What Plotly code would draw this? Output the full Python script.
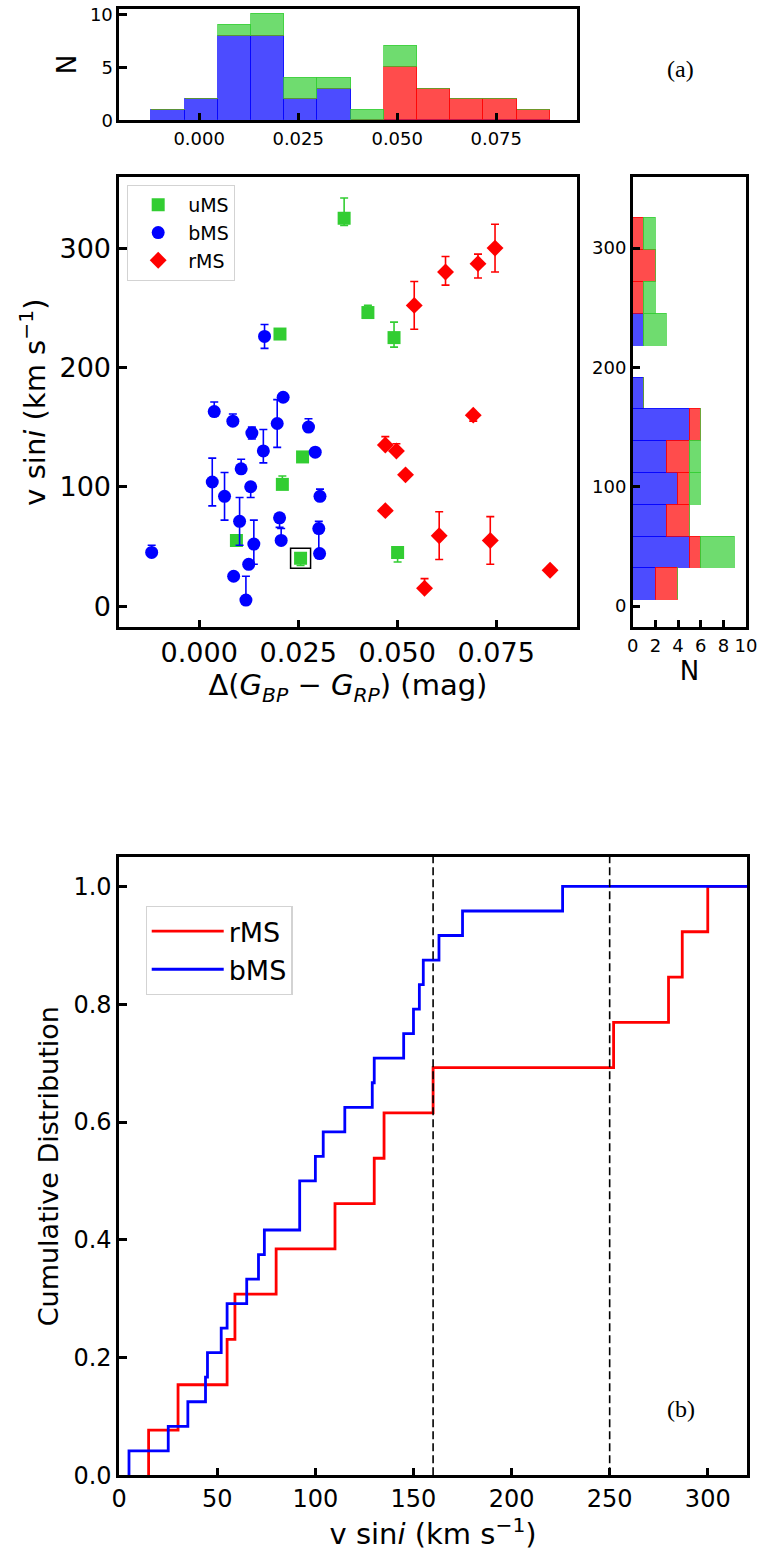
import numpy as np
import plotly.graph_objects as go

# ---------------- data ----------------
# uMS (green squares)
ums_x = [0.0366, 0.0204, 0.0426, 0.0492, 0.0261, 0.0210, 0.0094, 0.0256, 0.0501]
ums_v = [325, 228, 246, 225, 125, 102, 55, 40, 45]
ums_ep = [17, 3, 6, 13, 2, 7, 2, 3, 3]
ums_em = [6, 3, 3, 8, 2, 3, 2, 6, 8]

# bMS (blue circles)
bms_x = [-0.0120, 0.0038, 0.0085, 0.0133, 0.0197, 0.0276, 0.0162, 0.0293,
         0.0106, 0.0033, 0.0130, 0.0064, 0.0305, 0.0102, 0.0203, 0.0302,
         0.0138, 0.0207, 0.0304, 0.0125, 0.0087, 0.0118, 0.0165, 0.0212]
bms_v = [45, 163, 155, 145, 153, 150, 130, 129,
         115, 104, 100, 92, 92, 71, 74, 65,
         52, 55, 44, 35, 25, 5, 226, 175]
bms_ep = [6, 8, 6, 5, 20, 7, 18, 2,
          8, 20, 3, 20, 6, 20, 3, 6,
          20, 10, 3, 3, 2, 20, 10, 3]
bms_em = [3, 3, 3, 5, 20, 3, 10, 2,
          3, 20, 9, 20, 3, 20, 8, 20,
          17, 3, 3, 3, 2, 3, 10, 3]

# rMS (red diamonds)
rms_x = [0.0543, 0.0622, 0.0704, 0.0747, 0.0692, 0.0470, 0.0498, 0.0521,
         0.0470, 0.0606, 0.0735, 0.0886, 0.0569]
rms_v = [252, 280, 287, 300, 160, 135, 130, 110, 80, 59, 55, 30, 15]
rms_ep = [20, 13, 8, 20, 2, 7, 6, 2, 2, 20, 20, 2, 8]
rms_em = [20, 11, 12, 20, 5, 2, 2, 2, 2, 20, 20, 2, 2]

highlight_index = 7          # boxed uMS star
n_bins = 12
vlines = [160, 250]          # dashed reference velocities
cdf_xmax = 320

# ---------------- style ----------------
GREEN, BLUE, RED = "rgb(50,205,50)", "rgb(0,0,255)", "rgb(255,0,0)"
GREEN_A, BLUE_A, RED_A = "rgba(50,205,50,0.7)", "rgba(0,0,255,0.7)", "rgba(255,0,0,0.7)"
FONT = "DejaVu Sans"
W, H = 770, 1560


def px_x(p):
    return p / W


def px_y(p):
    return 1 - p / H


fig = go.Figure()

# ---------------- top histogram (x-distribution) ----------------
all_x = np.array(ums_x + bms_x + rms_x)
edges_x = np.histogram_bin_edges(all_x, bins=n_bins)
cx = 0.5 * (edges_x[:-1] + edges_x[1:])
wx = edges_x[1] - edges_x[0]
for vals, col in [(bms_x, BLUE_A), (rms_x, RED_A), (ums_x, GREEN_A)]:
    cnt, _ = np.histogram(vals, bins=edges_x)
    fig.add_trace(go.Bar(x=cx, y=cnt, width=wx, marker=dict(color=col, line=dict(color=col, width=1)),
                         xaxis="x", yaxis="y", showlegend=False, hoverinfo="skip"))

# ---------------- right histogram (vsini distribution) ----------------
all_v = np.array(ums_v + bms_v + rms_v)
edges_v = np.histogram_bin_edges(all_v, bins=n_bins)
cv = 0.5 * (edges_v[:-1] + edges_v[1:])
wv = edges_v[1] - edges_v[0]
for vals, col in [(bms_v, BLUE_A), (rms_v, RED_A), (ums_v, GREEN_A)]:
    cnt, _ = np.histogram(vals, bins=edges_v)
    fig.add_trace(go.Bar(y=cv, x=cnt, width=wv, orientation="h",
                         marker=dict(color=col, line=dict(color=col, width=1)),
                         xaxis="x3", yaxis="y3", showlegend=False, hoverinfo="skip"))

# ---------------- scatter ----------------
def err(ep, em, col):
    return dict(type="data", symmetric=False, array=ep, arrayminus=em,
                color=col, thickness=1.6, width=4)


fig.add_trace(go.Scatter(x=ums_x, y=ums_v, mode="markers", name="uMS",
                         marker=dict(symbol="square", size=13, color=GREEN),
                         error_y=err(ums_ep, ums_em, GREEN), xaxis="x2", yaxis="y2", legend="legend"))
fig.add_trace(go.Scatter(x=bms_x, y=bms_v, mode="markers", name="bMS",
                         marker=dict(symbol="circle", size=13, color=BLUE),
                         error_y=err(bms_ep, bms_em, BLUE), xaxis="x2", yaxis="y2", legend="legend"))
fig.add_trace(go.Scatter(x=rms_x, y=rms_v, mode="markers", name="rMS",
                         marker=dict(symbol="diamond", size=13, color=RED),
                         error_y=err(rms_ep, rms_em, RED), xaxis="x2", yaxis="y2", legend="legend"))
fig.add_trace(go.Scatter(x=[ums_x[highlight_index]], y=[ums_v[highlight_index]], mode="markers",
                         marker=dict(symbol="square-open", size=20, color="black", line=dict(width=1.5)),
                         xaxis="x2", yaxis="y2", showlegend=False, hoverinfo="skip"))

# ---------------- cumulative distributions ----------------
def cdf(vals, xmax):
    s = sorted(vals)
    n = len(s)
    xs = [s[0]] + s + [xmax]
    ys = [0] + [(i + 1) / n for i in range(n)] + [1]
    return xs, ys


rx, ry = cdf(rms_v, cdf_xmax)
bx, by = cdf(bms_v, cdf_xmax)
fig.add_trace(go.Scatter(x=rx, y=ry, mode="lines", line=dict(color=RED, width=2.8, shape="hv"),
                         name="rMS", xaxis="x4", yaxis="y4", legend="legend2"))
fig.add_trace(go.Scatter(x=bx, y=by, mode="lines", line=dict(color=BLUE, width=2.8, shape="hv"),
                         name="bMS", xaxis="x4", yaxis="y4", legend="legend2"))
for v in vlines:
    fig.add_shape(type="line", x0=v, x1=v, y0=0, y1=1, xref="x4", yref="y4 domain",
                  line=dict(color="black", width=1.6, dash="8px,4px"))


# ---------------- layout ----------------
def ax(domain, rng, size, **kw):
    d = dict(domain=domain, range=rng, showline=True, linecolor="black", linewidth=2.5, mirror=True,
             ticks="inside", ticklen=8, tickwidth=2.5, tickcolor="black", showgrid=False, zeroline=False,
             ticklabeloverflow="allow",
             tickfont=dict(family=FONT, size=size, color="black"))
    d.update(kw)
    return d


xd_main = [px_x(114), px_x(583)]
yd_main = [px_y(630), px_y(174)]
title_font = lambda s: dict(family=FONT, size=s, color="black")
vsini_title = "v sin<i>i</i> (km s<sup>−1</sup>)"

fig.update_layout(
    width=W, height=H, autosize=False,
    margin=dict(l=0, r=0, t=0, b=0),
    paper_bgcolor="white", plot_bgcolor="white",
    barmode="stack", bargap=0,
    xaxis=ax(xd_main, [-0.0202, 0.0953], 18, anchor="y", tickvals=[0, 0.025, 0.05, 0.075],
             ticktext=["0.000", "0.025", "0.050", "0.075"]),
    yaxis=ax([px_y(116.7), px_y(4)], [0, 10.5], 18, anchor="x", tickvals=[0, 5, 10],
             title=dict(text="N", font=title_font(26), standoff=6)),
    xaxis2=ax(xd_main, [-0.0202, 0.0953], 27, anchor="y2", tickvals=[0, 0.025, 0.05, 0.075],
              ticktext=["0.000", "0.025", "0.050", "0.075"],
              title=dict(text="Δ(<i>G</i><sub><i>BP</i></sub> − <i>G</i><sub><i>RP</i></sub>) (mag)",
                         font=title_font(29), standoff=4)),
    yaxis2=ax(yd_main, [-17.8, 359.7], 27, anchor="x2", tickvals=[0, 100, 200, 300],
              title=dict(text=vsini_title, font=title_font(29), standoff=6)),
    xaxis3=ax([px_x(640.5), px_x(756.7)], [0, 10], 18, anchor="y3", tickvals=[0, 2, 4, 6, 8, 10],
              title=dict(text="N", font=title_font(26), standoff=4)),
    yaxis3=ax(yd_main, [-17.8, 359.7], 18, anchor="x3", tickvals=[0, 100, 200, 300]),
    xaxis4=ax([px_x(114), px_x(757.7)], [0, cdf_xmax], 24, anchor="y4",
              tickvals=[0, 50, 100, 150, 200, 250, 300],
              title=dict(text=vsini_title, font=title_font(29), standoff=4)),
    yaxis4=ax([px_y(1488.5), px_y(862.5)], [0, 1.05], 24, anchor="x4",
              tickvals=[0, 0.2, 0.4, 0.6, 0.8, 1.0], ticktext=["0.0", "0.2", "0.4", "0.6", "0.8", "1.0"],
              title=dict(text="Cumulative Distribution", font=title_font(27), standoff=8)),
    legend=dict(x=px_x(122), y=px_y(182), xanchor="left", yanchor="top", traceorder="normal",
                font=dict(family=FONT, size=19, color="black"),
                bgcolor="rgba(255,255,255,0.85)", bordercolor="#d3d3d3", borderwidth=1.2,
                tracegroupgap=0, itemwidth=50),
    legend2=dict(x=px_x(141), y=px_y(912), xanchor="left", yanchor="top", traceorder="normal",
                 font=dict(family=FONT, size=27, color="black"),
                 bgcolor="rgba(255,255,255,0.85)", bordercolor="#d3d3d3", borderwidth=1.2,
                 itemwidth=72),
    annotations=[
        dict(text="(a)", x=px_x(690), y=px_y(65), xref="paper", yref="paper", showarrow=False,
             xanchor="center", yanchor="middle",
             font=dict(family="Liberation Serif", size=24, color="black")),
        dict(text="(b)", x=px_x(690), y=px_y(1421), xref="paper", yref="paper", showarrow=False,
             xanchor="center", yanchor="middle",
             font=dict(family="Liberation Serif", size=24, color="black")),
    ],
)

fig.write_html("out.html")
